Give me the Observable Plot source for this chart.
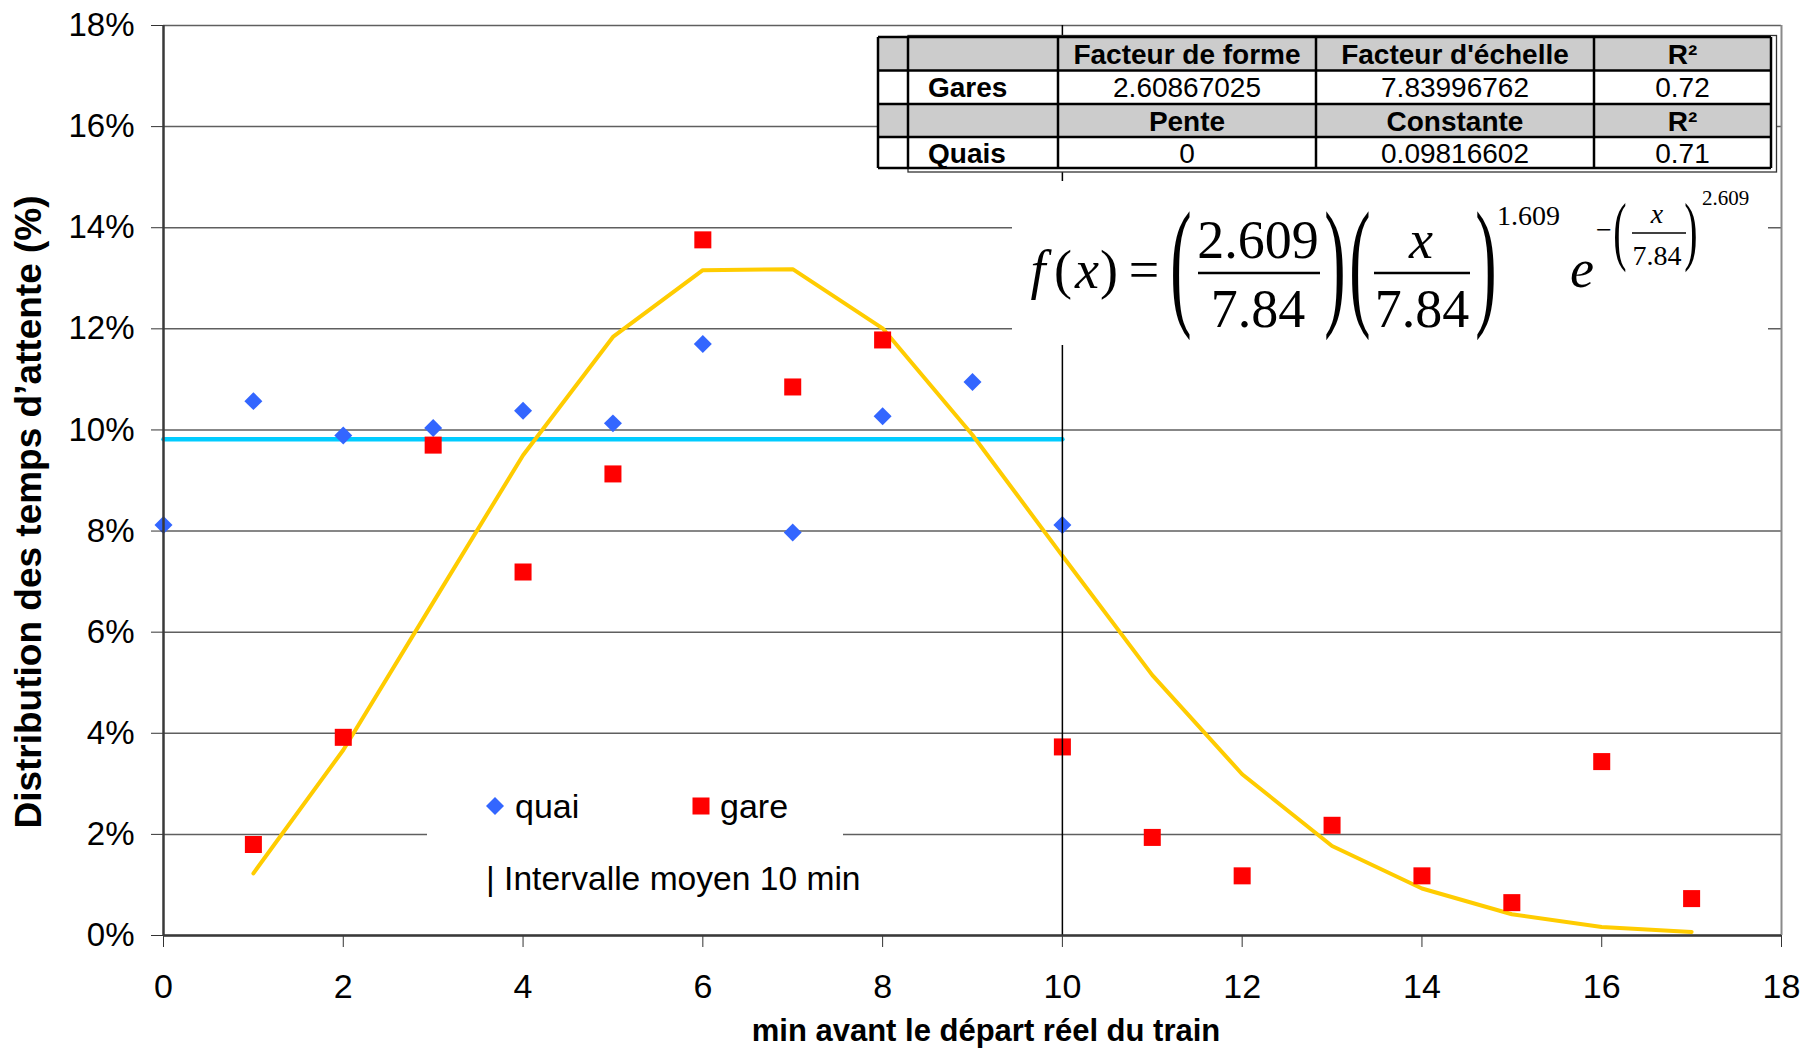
<!DOCTYPE html>
<html lang="fr">
<head>
<meta charset="utf-8">
<script src="https://cdn.jsdelivr.net/npm/d3@7"></script>
<script src="https://cdn.jsdelivr.net/npm/@observablehq/plot@0.6"></script>
<style>
  html, body { margin: 0; padding: 0; background: #fff; }
  #chart { width: 1809px; height: 1056px; }
</style>
</head>
<body>
<div id="chart"></div>
<script>
// ---------- data ----------
const quaiMinutes = [0, 1, 2, 3, 4, 5, 6, 7, 8, 9, 10];
const quaiShares  = [0.0812, 0.1057, 0.0989, 0.1004, 0.1038, 0.1013, 0.1170, 0.0797, 0.1027, 0.1095, 0.0812];

const gareMinutes = [1, 2, 3, 4, 5, 6, 7, 8, 10, 11, 12, 13, 14, 15, 16, 17];
const gareShares  = [0.0180, 0.0392, 0.0970, 0.0719, 0.0913, 0.1376, 0.1085, 0.1178, 0.0373, 0.0194, 0.0118, 0.0218, 0.0118, 0.0065, 0.0344, 0.0073];

const fitMinutes = [1, 2, 3, 4, 5, 6, 7, 8, 9, 10, 11, 12, 13, 14, 15, 16, 17];
const fitShares  = [0.0123, 0.0367, 0.0659, 0.0950, 0.1184, 0.1316, 0.1318, 0.1201, 0.0990, 0.0751, 0.0515, 0.0319, 0.0177, 0.0093, 0.0042, 0.0017, 0.0007];

const quaiFitMinutes = [0, 10];
const quaiFitShares  = [0.09816602, 0.09816602];

const meanInterval = [10];

const xTicks = [0, 2, 4, 6, 8, 10, 12, 14, 16, 18];
const yTicks = [0, 0.02, 0.04, 0.06, 0.08, 0.10, 0.12, 0.14, 0.16, 0.18];

const xTitle = "min avant le départ réel du train";
const yTitle = "Distribution des temps d’attente (%)";

const legendLabels = ["quai", "gare"];
const noteText = "| Intervalle moyen 10 min";

const tableRows = [
  ["", "", "Facteur de forme", "Facteur d'échelle", "R²"],
  ["", "Gares", "2.60867025", "7.83996762", "0.72"],
  ["", "", "Pente", "Constante", "R²"],
  ["", "Quais", "0", "0.09816602", "0.71"]
];

// ---------- tables for Plot ----------
const quai = quaiMinutes.map((m, i) => ({m, v: quaiShares[i]}));
const gare = gareMinutes.map((m, i) => ({m, v: gareShares[i]}));
const fit = fitMinutes.map((m, i) => ({m, v: fitShares[i]}));
const quaiFit = quaiFitMinutes.map((m, i) => ({m, v: quaiFitShares[i]}));

const sans = "'Liberation Sans', Arial, Helvetica, sans-serif";
const serif = "'Liberation Serif', 'Times New Roman', Times, serif";

const DIAMOND_R = 8.1;
const SQUARE_R = 9.6;

const chart = Plot.plot({
  width: 1809,
  height: 1056,
  marginTop: 25,
  marginRight: 28,
  marginBottom: 121,
  marginLeft: 163,
  style: {fontFamily: sans, background: "#fff", color: "#000", overflow: "visible"},
  x: {domain: [0, 18]},
  y: {domain: [0, 0.18]},
  marks: [
    Plot.gridY(yTicks, {stroke: "#5f5f5f", strokeOpacity: 1, strokeWidth: 1.5}),
    Plot.ruleX([18], {stroke: "#8a8a8a", strokeWidth: 2}),
    Plot.line(quaiFit, {x: "m", y: "v", stroke: "#00CCFF", strokeWidth: 4.5}),
    Plot.line(fit, {x: "m", y: "v", stroke: "#FFCC00", strokeWidth: 4, strokeLinejoin: "miter"}),
    Plot.dot(quai, {x: "m", y: "v", symbol: "diamond2", r: DIAMOND_R, fill: "#3366FF"}),
    Plot.dot(gare, {x: "m", y: "v", symbol: "square", r: SQUARE_R, fill: "#FF0000"}),
    Plot.ruleX(meanInterval, {stroke: "#000", strokeWidth: 1.5}),
    Plot.axisY(yTicks, {tickFormat: d3.format(".0%"), tickSize: 12, tickPadding: 17, fontSize: 33, label: null, stroke: "#333"}),
    Plot.axisX(xTicks, {tickSize: 12, tickPadding: 26, fontSize: 34, label: null, stroke: "#333"}),
    Plot.ruleX([0], {stroke: "#3a3a3a", strokeWidth: 2.5}),
    Plot.ruleY([0], {stroke: "#3a3a3a", strokeWidth: 2.5})
  ]
});

document.getElementById("chart").appendChild(chart);

// ---------- annotations (titles, legend, table, formula) ----------
const svg = d3.select(chart);
const ann = svg.append("g").attr("class", "annotations");

function text(parent, x, y, str, size, o = {}) {
  return parent.append("text")
    .attr("x", x).attr("y", y)
    .attr("font-size", size)
    .attr("font-family", o.family || sans)
    .attr("font-weight", o.weight || "normal")
    .attr("font-style", o.italic ? "italic" : "normal")
    .attr("text-anchor", o.anchor || "start")
    .attr("fill", "#000")
    .text(str);
}

// axis titles
text(ann, 986, 1041, xTitle, 31, {weight: "bold", anchor: "middle"});
text(ann, 0, 0, yTitle, 37, {weight: "bold", anchor: "middle"})
  .attr("transform", "translate(41,512) rotate(-90)");

// legend box
const leg = ann.append("g");
leg.append("rect").attr("x", 427).attr("y", 752).attr("width", 416).attr("height", 160).attr("fill", "#fff");
leg.append("path")
  .attr("transform", "translate(495,806)")
  .attr("d", d3.symbol(d3.symbolDiamond2, Math.PI * DIAMOND_R * DIAMOND_R)())
  .attr("fill", "#3366FF");
text(leg, 515, 818, legendLabels[0], 34);
leg.append("path")
  .attr("transform", "translate(701,806)")
  .attr("d", d3.symbol(d3.symbolSquare, Math.PI * SQUARE_R * SQUARE_R)())
  .attr("fill", "#FF0000");
text(leg, 720, 818, legendLabels[1], 34);
text(leg, 486, 890, noteText, 33.6);

// table
const tab = ann.append("g");
const colX = [878, 908, 1058, 1316, 1594, 1771];
const rowY = [37, 70.5, 104, 137, 168];
tab.append("rect").attr("x", 908).attr("y", 35.5).attr("width", 868.5).attr("height", 136.5)
  .attr("fill", "#fff").attr("stroke", "#333").attr("stroke-width", 1.3);
tableRows.forEach((row, r) => {
  tab.append("rect")
    .attr("x", colX[0]).attr("y", rowY[r])
    .attr("width", colX[5] - colX[0]).attr("height", rowY[r + 1] - rowY[r])
    .attr("fill", r % 2 === 0 ? "#cccccc" : "#ffffff");
  row.forEach((cell, c) => {
    if (!cell) return;
    const cy = (rowY[r] + rowY[r + 1]) / 2 + 10;
    const bold = r % 2 === 0 || c === 1;
    if (c === 1) text(tab, 928, cy, cell, 28, {weight: "bold"});
    else text(tab, (colX[c] + colX[c + 1]) / 2, cy, cell, 28, {weight: bold ? "bold" : "normal", anchor: "middle"});
  });
});
rowY.forEach(y => tab.append("line").attr("x1", colX[0]).attr("x2", colX[5]).attr("y1", y).attr("y2", y)
  .attr("stroke", "#000").attr("stroke-width", 2.5));
colX.forEach(x => tab.append("line").attr("x1", x).attr("x2", x).attr("y1", rowY[0]).attr("y2", rowY[4])
  .attr("stroke", "#000").attr("stroke-width", 2.5));

// formula
const fx = ann.append("g");
fx.append("rect").attr("x", 1012).attr("y", 181).attr("width", 756).attr("height", 164).attr("fill", "#fff");
const F = 54;
function paren(cx, cy, ch, fs, h) {
  const s = h / (fs * 0.871);
  fx.append("text")
    .attr("transform", `translate(${cx},${cy}) scale(1,${s})`)
    .attr("x", 0).attr("y", 0.2585 * fs)
    .attr("font-size", fs).attr("font-family", serif)
    .attr("text-anchor", "middle").attr("fill", "#000")
    .text(ch);
}
function bar(x1, x2, y, w) {
  fx.append("line").attr("x1", x1).attr("x2", x2).attr("y1", y).attr("y2", y)
    .attr("stroke", "#000").attr("stroke-width", w);
}
text(fx, 1038, 288, "f", F, {family: serif, italic: true, anchor: "middle"});
text(fx, 1063, 288, "(", F, {family: serif, anchor: "middle"});
text(fx, 1087, 288, "x", F, {family: serif, italic: true, anchor: "middle"});
text(fx, 1109, 288, ")", F, {family: serif, anchor: "middle"});
text(fx, 1144, 288, "=", F, {family: serif, anchor: "middle"});
paren(1181, 273.5, "(", 64, 123);
text(fx, 1258, 258, "2.609", F, {family: serif, anchor: "middle"});
bar(1198, 1320, 273, 2.5);
text(fx, 1258, 327, "7.84", F, {family: serif, anchor: "middle"});
paren(1335, 273.5, ")", 64, 123);
paren(1360, 273.5, "(", 64, 123);
text(fx, 1421, 258, "x", F, {family: serif, italic: true, anchor: "middle"});
bar(1374, 1470, 273, 2.5);
text(fx, 1422, 327, "7.84", F, {family: serif, anchor: "middle"});
paren(1486, 273.5, ")", 64, 123);
text(fx, 1497, 225, "1.609", 28, {family: serif});
text(fx, 1582, 287, "e", F, {family: serif, italic: true, anchor: "middle"});
text(fx, 1604, 239, "−", 28, {family: serif, anchor: "middle"});
paren(1620, 236, "(", 40, 66);
text(fx, 1657, 223, "x", 28, {family: serif, italic: true, anchor: "middle"});
bar(1632, 1686, 233, 1.5);
text(fx, 1657, 265, "7.84", 28, {family: serif, anchor: "middle"});
paren(1691, 236, ")", 40, 66);
text(fx, 1702, 205, "2.609", 21, {family: serif});
</script>
</body>
</html>
